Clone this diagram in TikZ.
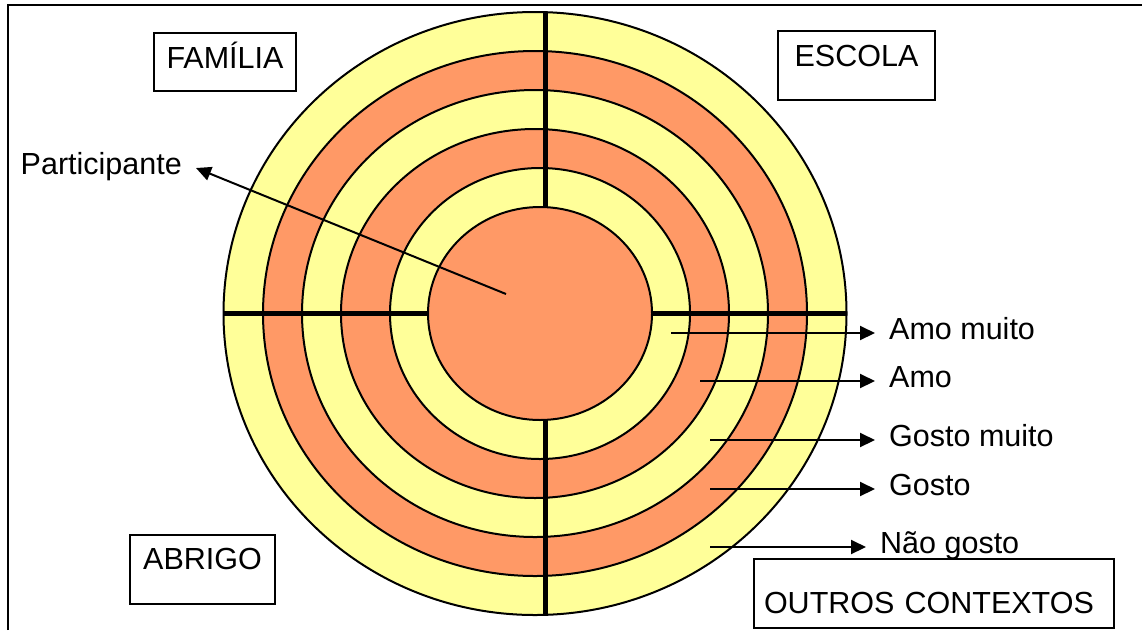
\documentclass[tikz,border=0pt]{standalone}
\usepackage{fontspec}
\setmainfont{Liberation Sans}
\usetikzlibrary{arrows.meta}
\definecolor{laranja}{RGB}{255,153,102}
\definecolor{amarelo}{RGB}{255,255,153}

\begin{document}
\begin{tikzpicture}[x=1pt,y=-1pt,font=\fontsize{30.5}{36}\selectfont]
    \tikzstyle{anel}=[draw,line width=2pt]
    \tikzstyle{eixo}=[line width=5pt]
    \tikzstyle{seta}=[line width=2pt,-{Triangle[length=15pt,width=14pt]}]
    \tikzstyle{rotulo}=[inner xsep=14pt,inner ysep=0pt,text height=22pt,text depth=10pt]
    \tikzstyle{caixa}=[draw,line width=2pt,inner xsep=0pt,inner ysep=0pt,anchor=north west]
    \useasboundingbox (0,0) rectangle (1142,630);
    % moldura
    \draw[line width=2.5pt] (8,630) -- (8,5) -- (1142,5);
    % aneis
    \draw[anel,fill=amarelo] (535,313.5) ellipse [x radius=311.5,y radius=301.5];
    \draw[anel,fill=laranja] (535,313.5) ellipse [x radius=272,y radius=262.5];
    \draw[anel,fill=amarelo] (535,313.5) ellipse [x radius=233,y radius=223.5];
    \draw[anel,fill=laranja] (535,313.5) ellipse [x radius=194,y radius=184.5];
    \draw[anel,fill=amarelo] (540,313.5) ellipse [x radius=150,y radius=145.5];
    \draw[anel,fill=laranja] (540,313.5) ellipse [x radius=112,y radius=106.5];
    % eixos
    \draw[eixo] (545,12) -- (545,207);
    \draw[eixo] (545,420) -- (545,615);
    \draw[eixo] (224,313) -- (428,313);
    \draw[eixo] (652,313) -- (847,313);
    % contextos
    \node[caixa,minimum width=142pt,text height=35pt,text depth=23pt] (familia) at (153,32) {FAMÍLIA};
    \node[caixa,minimum width=157pt,text height=35pt,text depth=34pt] (escola) at (777,30) {ESCOLA};
    \node[caixa,minimum width=145pt,text height=34pt,text depth=35pt] (abrigo) at (129,534) {ABRIGO};
    \node[caixa,inner xsep=10pt,text width=340pt,align=left,text height=54pt,text depth=15pt] (outros) at (753,558) {OUTROS CONTEXTOS};
    % participante
    \node[rotulo,anchor=east] (participante) at (196,168) {Participante};
    \coordinate (centro) at (506,294);
    \draw[seta] (centro) -- (participante.east);
    % legenda
    \node[rotulo,anchor=west] (amomuito) at (875,333) {Amo muito};
    \node[rotulo,anchor=west] (amo) at (875,381) {Amo};
    \node[rotulo,anchor=west] (gostomuito) at (875,440) {Gosto muito};
    \node[rotulo,anchor=west] (gosto) at (875,489) {Gosto};
    \node[rotulo,anchor=west] (naogosto) at (866,547) {Não gosto};
    \coordinate (aneamomuito) at (671,333);
    \coordinate (aneamo) at (700,381);
    \coordinate (anegostomuito) at (710,440);
    \coordinate (anegosto) at (710,489);
    \coordinate (anenaogosto) at (710,547);
    \draw[seta] (aneamomuito) -- (amomuito.west);
    \draw[seta] (aneamo) -- (amo.west);
    \draw[seta] (anegostomuito) -- (gostomuito.west);
    \draw[seta] (anegosto) -- (gosto.west);
    \draw[seta] (anenaogosto) -- (naogosto.west);
\end{tikzpicture}
\end{document}
